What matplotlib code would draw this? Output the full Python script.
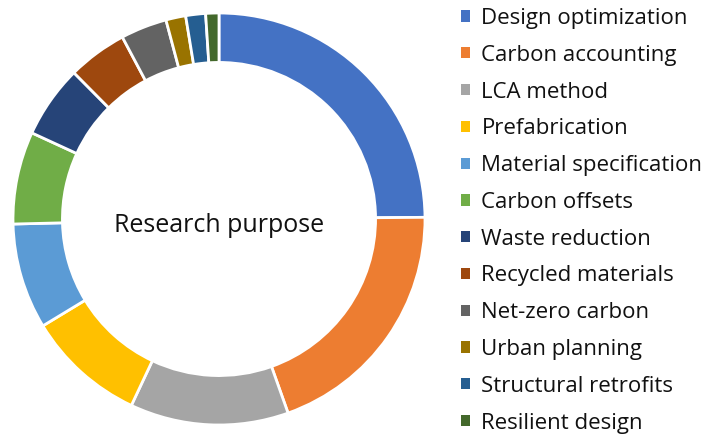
import matplotlib.pyplot as plt

purposes = ["Design optimization", "Carbon accounting", "LCA method",
            "Prefabrication", "Material specification", "Carbon offsets",
            "Waste reduction", "Recycled materials", "Net-zero carbon",
            "Urban planning", "Structural retrofits", "Resilient design"]
counts = [48, 38, 24, 18, 16, 14, 11, 9, 7, 3, 3, 2]
colors = ["#4472C4", "#ED7D31", "#A5A5A5", "#FFC000", "#5B9BD5", "#70AD47",
          "#264478", "#9E480E", "#636363", "#997300", "#255E91", "#43682B"]

plt.rcParams['font.family'] = ['Open Sans', 'DejaVu Sans']

fig = plt.figure(figsize=(7.07, 4.36), dpi=100)
ax = fig.add_axes([13 / 707, 11 / 436, 412 / 707, 412 / 436])

wedges, _ = ax.pie(counts, colors=colors, startangle=90, counterclock=False,
                   radius=1.0,
                   wedgeprops=dict(width=0.24, edgecolor="white", linewidth=2))
ax.set_xlim(-1.0, 1.0)
ax.set_ylim(-1.0, 1.0)
ax.set_aspect("equal")
ax.text(0, -0.03, "Research purpose", ha="center", va="center", fontsize=18,
        color="#111111")

leg = fig.legend(wedges, purposes, loc="upper left",
                 bbox_to_anchor=(461 / 707, 1 - 8 / 436),
                 frameon=False, fontsize=16, handlelength=0.4,
                 handleheight=0.4, handletextpad=0.52, labelspacing=0.71,
                 borderaxespad=0, borderpad=0)
for t in leg.get_texts():
    t.set_color("#111111")
for h in leg.legend_handles:
    h.set_edgecolor("none")

fig.savefig("out.png", dpi=100)
